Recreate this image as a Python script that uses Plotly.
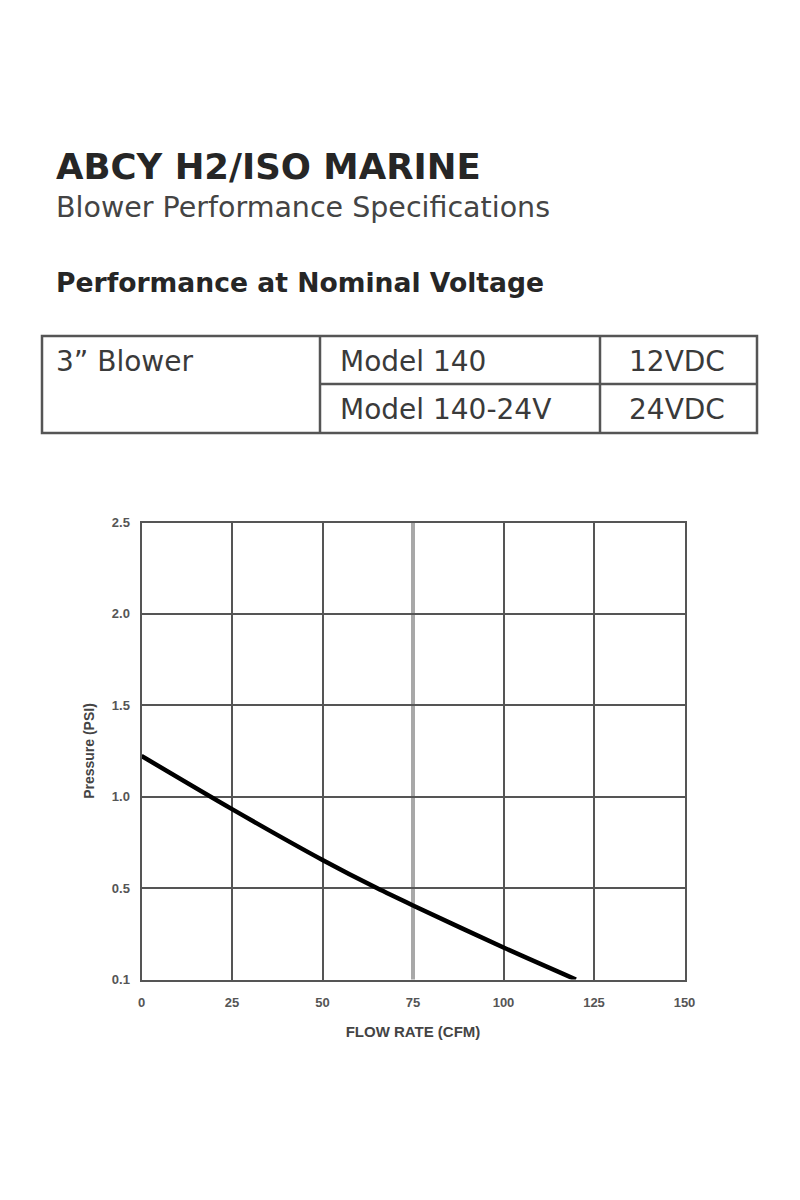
import plotly.graph_objects as go

# curve
flow_cfm = [0, 25, 50, 65, 75, 100, 120]
pressure_psi = [1.223, 0.932, 0.654, 0.50, 0.405, 0.175, 0.0]

x_ticks = [0, 25, 50, 75, 100, 125, 150]
y_ticks = [0, 0.5, 1.0, 1.5, 2.0, 2.5]
y_ticktext = ["0.1", "0.5", "1.0", "1.5", "2.0", "2.5"]

title = "ABCY H2/ISO MARINE"
subtitle = "Blower Performance Specifications"
section = "Performance at Nominal Voltage"
blower = "3\u201d Blower"
models = ["Model 140", "Model 140-24V"]
voltages = ["12VDC", "24VDC"]

# the page has an 8px body margin, so the figure is sized to fit the 800x1200 window exactly
OFF = 8
W, H = 800 - 2 * OFF, 1200 - 2 * OFF
def px(x):
    return (x - OFF) / W
def py(y):
    return 1 - (y - OFF) / H

fig = go.Figure()

fig.add_trace(
    go.Scatter(x=flow_cfm, y=pressure_psi,
        mode='lines',
        line=dict(color="black", width=4.5, shape="spline", smoothing=0.8),
        showlegend=False, hoverinfo="skip")
)

grid_col = "#555555"
tick_font = dict(family="Liberation Sans, Arial", size=13, color="#555555", weight="bold")
title_font = dict(family="Liberation Sans, Arial", size=14, color="#444444", weight="bold")

# vertical grid through minor ticks so the 75 line can be drawn lighter
fig.update_xaxes(
    range=[0, 150], tickvals=x_ticks, ticktext=[str(v) for v in x_ticks],
    showgrid=False,
    minor=dict(tickvals=[25, 50, 100, 125], showgrid=True, gridcolor=grid_col, gridwidth=2, ticks=""),
    showline=True, linecolor=grid_col, linewidth=2, mirror=True,
    zeroline=False, ticks="", ticklabelstandoff=10,
    tickfont=tick_font, automargin=False,
    title=dict(text="FLOW RATE (CFM)", standoff=17, font=dict(title_font, size=15)),
    domain=[px(141.5), px(684.5)],
)
fig.update_yaxes(
    range=[0, 2.5], tickvals=y_ticks, ticktext=y_ticktext,
    showgrid=True, gridcolor=grid_col, gridwidth=2,
    showline=True, linecolor=grid_col, linewidth=2, mirror=True,
    zeroline=False, ticks="", ticklabelstandoff=7,
    tickfont=tick_font, automargin=False,
    title=dict(text="Pressure (PSI)", standoff=14, font=title_font),
    domain=[py(979.5), py(522.5)],
)

# the 75 CFM line is drawn lighter in the original
fig.add_vline(x=75, line_color="#a8a8a8", line_width=4, layer="below")

# table frame
tbl = "#555555"
shapes = [
    dict(type="rect", x0=px(42), x1=px(757), y0=py(336), y1=py(433)),
    dict(type="line", x0=px(320), x1=px(320), y0=py(336), y1=py(433)),
    dict(type="line", x0=px(600), x1=px(600), y0=py(336), y1=py(433)),
    dict(type="line", x0=px(320), x1=px(757), y0=py(384), y1=py(384)),
]
for s in shapes:
    s.update(xref="paper", yref="paper", line=dict(color=tbl, width=2.5))
    fig.add_shape(**s)

head_font = "DejaVu Sans, Open Sans, sans-serif"
tab_font = dict(family="DejaVu Sans, Open Sans, sans-serif", size=28, color="#3a3a3a")

annos = [
    dict(text=title, x=px(54), y=py(166), xanchor="left",
         font=dict(family=head_font, size=35.5, color="#262626", weight="bold")),
    dict(text=subtitle, x=px(54), y=py(208), xanchor="left",
         font=dict(family=head_font, size=28.5, color="#444444")),
    dict(text=section, x=px(54), y=py(283), xanchor="left",
         font=dict(family=head_font, size=26.6, color="#262626", weight="bold")),
    dict(text=blower, x=px(54), y=py(361), xanchor="left", font=tab_font),
    dict(text=models[0], x=px(338), y=py(361), xanchor="left", font=tab_font),
    dict(text=models[1], x=px(338), y=py(409), xanchor="left", font=tab_font),
    dict(text=voltages[0], x=px(677), y=py(361), xanchor="center", font=tab_font),
    dict(text=voltages[1], x=px(677), y=py(409), xanchor="center", font=tab_font),
]
for a in annos:
    a.update(xref="paper", yref="paper", yanchor="middle", showarrow=False)
    fig.add_annotation(**a)

fig.update_layout(
    width=W, height=H,
    margin=dict(l=0, r=0, t=0, b=0, autoexpand=False),
    plot_bgcolor="white", paper_bgcolor="white",
    showlegend=False,
)

fig.write_html("out.html")
